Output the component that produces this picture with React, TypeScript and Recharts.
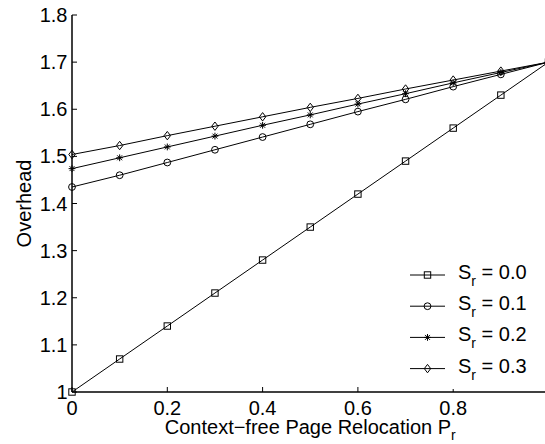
import React from 'react';
import { LineChart, Line, XAxis, YAxis, Legend } from 'recharts';

const relocation = [0, 0.1, 0.2, 0.3, 0.4, 0.5, 0.6, 0.7, 0.8, 0.9, 1.0];
const sr00 = [1.0, 1.07, 1.14, 1.21, 1.28, 1.35, 1.42, 1.49, 1.56, 1.63, 1.7];
const sr01 = [1.435, 1.46, 1.487, 1.514, 1.541, 1.568, 1.595, 1.621, 1.648, 1.674, 1.7];
const sr02 = [1.474, 1.497, 1.52, 1.543, 1.566, 1.588, 1.611, 1.633, 1.656, 1.678, 1.7];
const sr03 = [1.504, 1.523, 1.544, 1.564, 1.584, 1.604, 1.623, 1.643, 1.662, 1.681, 1.7];

const xTicks = [0, 0.2, 0.4, 0.6, 0.8];
const yTicks = [1, 1.1, 1.2, 1.3, 1.4, 1.5, 1.6, 1.7, 1.8];

const FONT = '"Liberation Sans", Arial, Helvetica, sans-serif';

const seriesList = [
  { key: 'sr00', label: '0.0', marker: 'square' },
  { key: 'sr01', label: '0.1', marker: 'circle' },
  { key: 'sr02', label: '0.2', marker: 'star' },
  { key: 'sr03', label: '0.3', marker: 'diamond' },
];

const data = relocation.map((pr, i) => ({
  pr,
  sr00: sr00[i],
  sr01: sr01[i],
  sr02: sr02[i],
  sr03: sr03[i],
}));

function Marker({ kind, cx, cy }: { kind: string; cx?: number; cy?: number }) {
  if (cx == null || cy == null) return null;
  if (kind === 'square') {
    return <rect x={cx - 3.2} y={cy - 3.2} width={6.4} height={6.4} fill="none" stroke="#000" strokeWidth={1} />;
  }
  if (kind === 'circle') {
    return <circle cx={cx} cy={cy} r={3.4} fill="none" stroke="#000" strokeWidth={1} />;
  }
  if (kind === 'star') {
    const r = 3.4;
    const d = r * 0.72;
    return (
      <g stroke="#000" strokeWidth={1}>
        <line x1={cx - r} y1={cy} x2={cx + r} y2={cy} />
        <line x1={cx} y1={cy - r} x2={cx} y2={cy + r} />
        <line x1={cx - d} y1={cy - d} x2={cx + d} y2={cy + d} />
        <line x1={cx - d} y1={cy + d} x2={cx + d} y2={cy - d} />
      </g>
    );
  }
  return (
    <polygon
      points={`${cx},${cy - 4.2} ${cx + 3.2},${cy} ${cx},${cy + 4.2} ${cx - 3.2},${cy}`}
      fill="none"
      stroke="#000"
      strokeWidth={1}
    />
  );
}

function LegendBox() {
  return (
    <svg width={140} height={130} style={{ display: 'block', background: '#fff' }}>
      {seriesList.map((s, i) => {
        const y = 16 + i * 31.2;
        return (
          <g key={s.key}>
            <line x1={5} x2={40} y1={y} y2={y} stroke="#000" strokeWidth={1} />
            <Marker kind={s.marker} cx={22.5} cy={y} />
            <text x={53} y={y + 4} fontSize={20} fontFamily={FONT} fill="#000">
              S
              <tspan dy={7} fontSize={14}>r</tspan>
              <tspan dy={-7}>{' = ' + s.label}</tspan>
            </text>
          </g>
        );
      })}
    </svg>
  );
}

function XTitle(props: any) {
  const vb = props.viewBox || { x: 72, y: 392, width: 476.5, height: 52 };
  return (
    <text x={vb.x + vb.width / 2} y={vb.y + 42} textAnchor="middle" fontSize={20} fontFamily={FONT} fill="#000">
      Context−free Page Relocation P
      <tspan dy={6} fontSize={14}>r</tspan>
    </text>
  );
}

function YTitle(props: any) {
  const vb = props.viewBox || { x: 0, y: 15, width: 72, height: 377 };
  const x = vb.x + 31;
  const y = vb.y + vb.height / 2;
  return (
    <text x={x} y={y} transform={`rotate(-90, ${x}, ${y})`} textAnchor="middle" fontSize={20} fontFamily={FONT} fill="#000">
      Overhead
    </text>
  );
}

const tickStyle = { fill: '#000', fontSize: 20, fontFamily: FONT };
const axisLine = { stroke: '#000', strokeWidth: 1.5 };
const tickLine = { stroke: '#000', strokeWidth: 1 };

export default function App() {
  return (
    <div
      style={{
        position: 'fixed',
        left: 0,
        top: 0,
        width: 545,
        height: 444,
        overflow: 'hidden',
        background: '#fff',
      }}
    >
      <LineChart width={560} height={444} data={data} margin={{ top: 15, right: 11.5, bottom: 0, left: 0 }}>
        <XAxis
          dataKey="pr"
          type="number"
          domain={[0, 1]}
          ticks={xTicks}
          interval={0}
          tickSize={-5}
          tickMargin={14}
          height={52}
          axisLine={axisLine}
          tickLine={tickLine}
          tick={tickStyle}
          label={{ content: (p: any) => <XTitle {...p} /> }}
        />
        <XAxis
          xAxisId="top"
          orientation="top"
          type="number"
          domain={[0, 1]}
          allowDataOverflow
          ticks={xTicks}
          interval={0}
          tickSize={-5}
          height={0}
          axisLine={axisLine}
          tickLine={tickLine}
          tick={false}
        />
        <YAxis
          type="number"
          domain={[1, 1.8]}
          ticks={yTicks}
          interval={0}
          tickSize={-5}
          tickMargin={9.5}
          width={72}
          axisLine={axisLine}
          tickLine={tickLine}
          tick={tickStyle}
          label={{ content: (p: any) => <YTitle {...p} /> }}
        />
        <YAxis
          yAxisId="right"
          orientation="right"
          type="number"
          domain={[1, 1.8]}
          allowDataOverflow
          ticks={yTicks}
          interval={0}
          tickSize={-5}
          width={0}
          axisLine={axisLine}
          tickLine={tickLine}
          tick={false}
        />
        <Legend
          layout="horizontal"
          verticalAlign="middle"
          align="center"
          content={() => <LegendBox />}
          wrapperStyle={{ position: 'absolute', left: 405, top: 258.5, width: 140, height: 130 }}
        />
        {seriesList.map((s) => (
          <Line
            key={s.key}
            dataKey={s.key}
            type="linear"
            stroke="#000"
            strokeWidth={1}
            isAnimationActive={false}
            dot={(p: any) => <Marker key={`${s.key}-${p.index}`} kind={s.marker} cx={p.cx} cy={p.cy} />}
            activeDot={false}
          />
        ))}
      </LineChart>
    </div>
  );
}
